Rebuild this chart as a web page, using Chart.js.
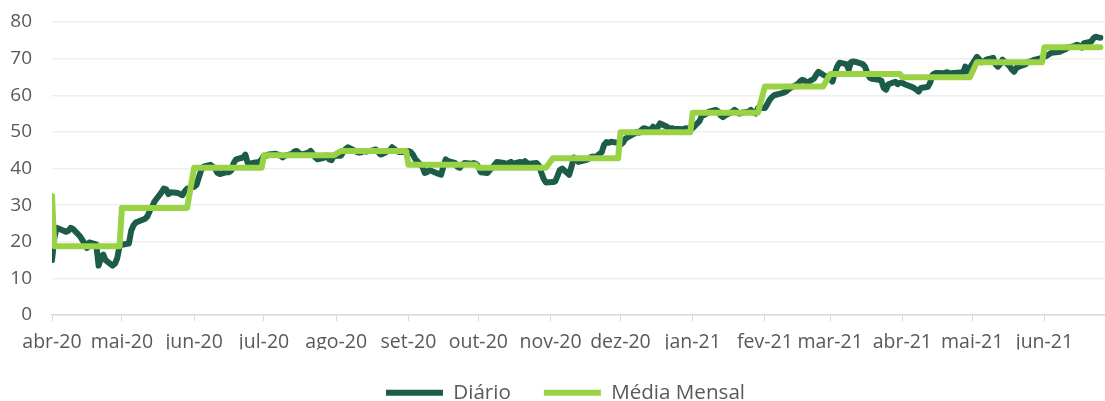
<!DOCTYPE html>
<html lang="pt-BR">
<head>
<meta charset="utf-8">
<title>Diário x Média Mensal</title>
<script src="https://cdn.jsdelivr.net/npm/chart.js@4.4.1/dist/chart.umd.min.js"></script>
<style>
  html, body { margin: 0; padding: 0; background: #fff; }
  #wrap { width: 1105px; height: 401px; }
</style>
</head>
<body>
<div id="wrap"><canvas id="grafico"></canvas></div>
<script>
// Rótulos do eixo X (início de cada mês)
const meses = ["abr-20", "mai-20", "jun-20", "jul-20", "ago-20", "set-20", "out-20", "nov-20",
               "dez-20", "jan-21", "fev-21", "mar-21", "abr-21", "mai-21", "jun-21"];
const primeiroMes = [2020, 3];   // abril/2020 (mês base 0)
const ultimoDiaEixo = [2021, 5, 27];

// Média mensal (degraus)
const mediaMensal = [18.8, 29.2, 40.2, 43.6, 44.8, 41.0, 40.2, 42.8, 49.9, 55.2, 62.4, 65.8, 64.9, 69.0, 73.1];
const mediaPrimeiroDia = 32.5;

// Valores diários (dias úteis), um array por mês
const diarioAbr20 = [15, 21, 23.8, 23, 22.7, 23, 23.8, 23.5, 21.5, 20.5, 19.5, 18.3, 19.8, 19.3, 13.5, 15.5, 16.5, 15, 13.5, 14, 15.5, 18.8];
const diarioMai20 = [19.2, 19.5, 23, 24.5, 25.3, 25.5, 26.3, 27, 28.5, 29.5, 31, 33.5, 34.5, 34.3, 33, 33.5, 33.3, 33, 32.7, 33.8, 34.5];
const diarioJun20 = [35, 35.5, 37.5, 39.5, 40.5, 41, 40.5, 40, 38.8, 38.5, 39, 39, 39.5, 41.5, 42.5, 43, 43.8, 41.5, 41.3, 41.5, 41.8, 42.5];
const diarioJul20 = [43.5, 43.5, 43.8, 44, 43.8, 43.5, 43, 43.5, 44, 44.6, 44.8, 44.3, 43.8, 44.3, 44.8, 44, 43, 42.5, 43, 43.5, 42.5, 42.3, 43.5];
const diarioAgo20 = [43.5, 44.5, 45.3, 45.8, 45.5, 44.5, 44.3, 44.5, 44.8, 44.6, 45, 45.2, 44.5, 43.8, 44, 45, 45.8, 45.3, 44.8, 44.5, 44.5];
const diarioSet20 = [44.8, 44.5, 43.7, 42.5, 40.5, 38.8, 39, 39.6, 39.3, 38.5, 38.3, 40.5, 42.5, 42, 41.5, 40.5, 40.2, 41, 41.5, 41.3, 41.5, 41.3];
const diarioOut20 = [40.5, 39, 38.8, 39.6, 40.3, 41, 41.8, 41.5, 41.2, 41.5, 41.8, 41.3, 41.8, 41.5, 42, 41.5, 41.3, 41.5, 40.8, 39, 37.2, 36.2];
const diarioNov20 = [36.3, 36.5, 38, 39.6, 40, 38.3, 40.5, 43, 42.5, 41.8, 42.3, 42.5, 43, 43.3, 43, 44.5, 46.5, 47.2, 47, 47.3, 47];
const diarioDez20 = [46.5, 47, 48, 48.5, 49.5, 50, 49.8, 50.5, 51, 50.5, 51.4, 50.5, 51.3, 52.3, 51.4, 50.8, 51, 50.8, 50.8, 50.7, 51, 50.8, 51];
const diarioJan21 = [51, 53, 54.5, 54.6, 55, 55.5, 56, 55.5, 54.5, 54, 54.5, 55.5, 56, 55.5, 55, 55.2, 55.5, 56, 55.3, 55, 56.5];
const diarioFev21 = [56.5, 57.5, 58.7, 59.5, 60, 60.5, 60.7, 61, 61.5, 62, 63, 63.7, 64.2, 64, 63.4, 64.5, 65.5, 66.4, 66, 65.6];
const diarioMar21 = [64.5, 63.7, 66, 67.8, 68.9, 68.5, 67, 69.1, 69.2, 69.1, 68.5, 67.8, 66, 64.8, 64.5, 64.2, 64, 62, 61.5, 63, 63.7, 63, 63.4];
const diarioAbr21 = [63.4, 63, 62.3, 62, 61.5, 61, 62, 62.3, 63.5, 65.6, 66, 66.1, 66, 66.3, 66.1, 66, 66.1, 66.2, 66, 67.8, 66.5, 67.5];
const diarioMai21 = [70.5, 69.8, 69, 69.2, 69.7, 70.2, 68.5, 67.8, 68.5, 69.7, 68, 67, 66.4, 67.5, 67.8, 68.5, 69.1, 69.2, 69.5, 69.7, 70.2];
const diarioJun21 = [70.5, 70.8, 71.2, 71.6, 71.8, 72, 72.3, 72.5, 73, 73.5, 73.8, 73.5, 73, 74.2, 74.6, 75.5, 76, 75.8, 75.7];

const diarioPorMes = [diarioAbr20, diarioMai20, diarioJun20, diarioJul20, diarioAgo20, diarioSet20, diarioOut20,
                      diarioNov20, diarioDez20, diarioJan21, diarioFev21, diarioMar21, diarioAbr21, diarioMai21, diarioJun21];

const DIA = 86400000;
const base = Date.UTC(primeiroMes[0], primeiroMes[1], 1);

// monta os pontos (x = dias desde 01/04/2020), só dias úteis
let pontosDiario = [];
let pontosMedia = [];
let inicioMeses = [];
diarioPorMes.forEach((valores, m) => {
    const ano = primeiroMes[0] + Math.floor((primeiroMes[1] + m) / 12);
    const mes = (primeiroMes[1] + m) % 12;
    inicioMeses.push((Date.UTC(ano, mes, 1) - base) / DIA);
    let i = 0;
    for (let d = 1; d <= 31 && i < valores.length; d++) {
        const dt = new Date(Date.UTC(ano, mes, d));
        if (dt.getUTCMonth() !== mes) break;
        const sem = dt.getUTCDay();
        if (sem === 0 || sem === 6) continue;
        const x = (dt.getTime() - base) / DIA;
        pontosDiario.push({ x: x, y: valores[i] });
        pontosMedia.push({ x: x, y: mediaMensal[m] });
        i++;
    }
});
pontosMedia[0].y = mediaPrimeiroDia;

const xMax = (Date.UTC(ultimoDiaEixo[0], ultimoDiaEixo[1], ultimoDiaEixo[2]) - base) / DIA;

const corTexto = "#595959";
const fonte = "'Open Sans', sans-serif";

// empurra a legenda um pouco para a direita (como no original)
const deslocaLegenda = {
    id: "deslocaLegenda",
    afterLayout(chart) {
        chart.legend.left += 8;
        chart.legend.right += 8;
    }
};

new Chart(document.getElementById("grafico"), {
    type: "line",
    data: {
        datasets: [
            {
                label: "Diário",
                data: pontosDiario,
                borderColor: "#1E5C4A",
                backgroundColor: "#1E5C4A",
                borderWidth: 6,
                borderJoinStyle: "round",
                borderCapStyle: "round",
                pointRadius: 0,
                tension: 0,
                order: 2
            },
            {
                label: "Média Mensal",
                data: pontosMedia,
                borderColor: "#9AD246",
                backgroundColor: "#9AD246",
                borderWidth: 6,
                borderJoinStyle: "round",
                borderCapStyle: "round",
                pointRadius: 0,
                tension: 0,
                order: 1
            }
        ]
    },
    options: {
        responsive: true,
        maintainAspectRatio: false,
        animation: false,
        layout: {
            padding: { left: 10, right: 0, top: 22, bottom: -12 }
        },
        plugins: {
            tooltip: { enabled: false },
            legend: {
                position: "bottom",
                align: "center",
                labels: {
                    usePointStyle: true,
                    pointStyle: "line",
                    pointStyleWidth: 57,
                    boxHeight: 6,
                    padding: 33,
                    color: corTexto,
                    font: { family: fonte, size: 20.6 },
                    sort: (a, b) => a.datasetIndex - b.datasetIndex
                }
            }
        },
        scales: {
            x: {
                type: "linear",
                min: 0,
                max: xMax,
                afterBuildTicks: (eixo) => {
                    eixo.ticks = inicioMeses.map(v => ({ value: v }));
                },
                afterFit: (eixo) => {
                    eixo.paddingLeft = 0;
                    eixo.paddingRight = 0;
                    eixo.height = 34.4;
                },
                ticks: {
                    autoSkip: false,
                    maxRotation: 0,
                    padding: 10,
                    color: corTexto,
                    font: { family: fonte, size: 19.5 },
                    callback: (valor, indice) => meses[indice]
                },
                grid: {
                    drawOnChartArea: false,
                    drawTicks: true,
                    tickLength: 6,
                    color: "#D9D9D9"
                },
                border: { color: "#D9D9D9", width: 1.5 }
            },
            y: {
                min: 0,
                max: 80,
                afterFit: (eixo) => {
                    eixo.paddingTop = 0;
                    eixo.paddingBottom = 0;
                    eixo.width = 42;
                },
                ticks: {
                    stepSize: 10,
                    padding: 20,
                    color: corTexto,
                    font: { family: fonte, size: 19 }
                },
                grid: {
                    drawTicks: false,
                    color: "#EFEFEF",
                    lineWidth: 1.5
                },
                border: { display: false }
            }
        }
    },
    plugins: [deslocaLegenda]
});
</script>
</body>
</html>
